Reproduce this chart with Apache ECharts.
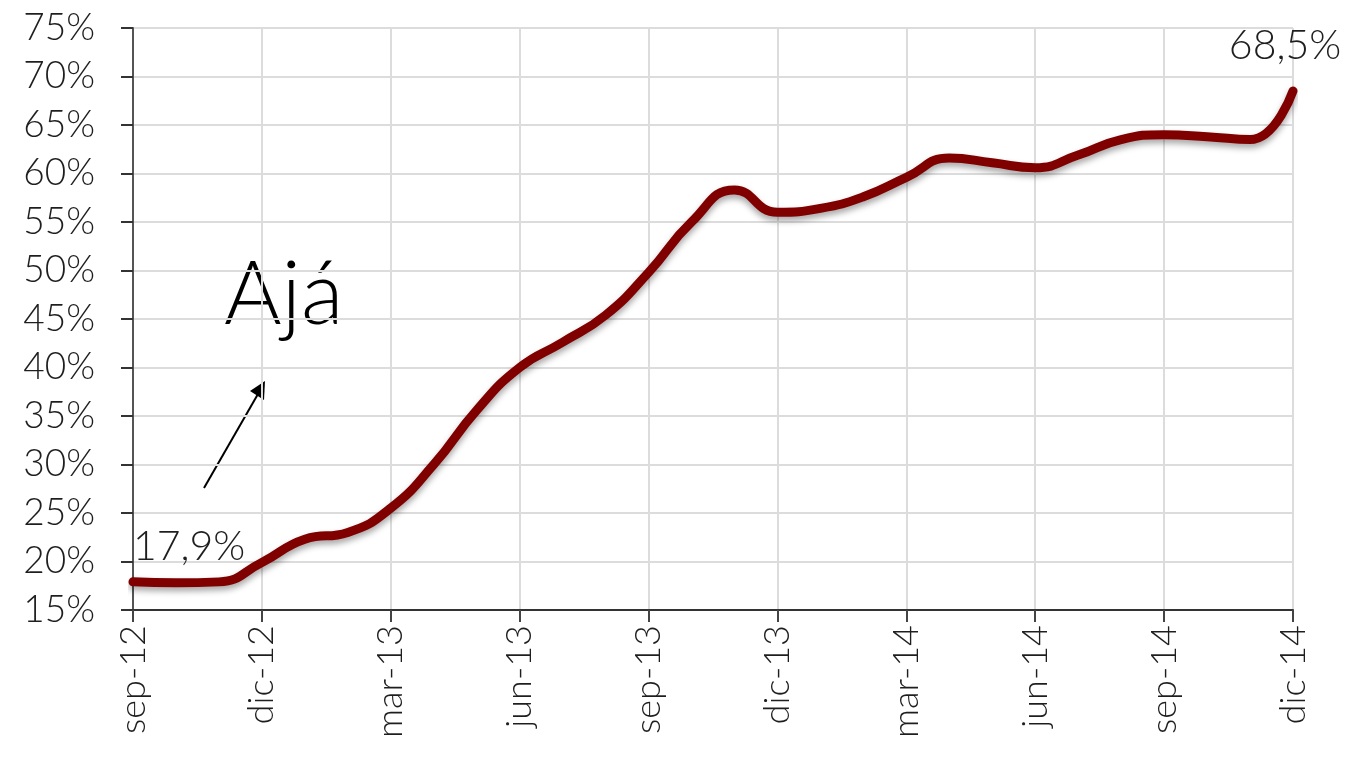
<!DOCTYPE html>
<html>
<head>
<meta charset="utf-8">
<script src="https://cdn.jsdelivr.net/npm/echarts@6/dist/echarts.min.js"></script>
<style>
  html, body { margin: 0; padding: 0; background: #fff; }
  #chart { width: 1350px; height: 769px; }
</style>
</head>
<body>
<div id="chart"></div>
<script>
const months = [
  'sep-12', 'oct-12', 'nov-12', 'dic-12', 'ene-13', 'feb-13', 'mar-13', 'abr-13', 'may-13', 'jun-13',
  'jul-13', 'ago-13', 'sep-13', 'oct-13', 'nov-13', 'dic-13', 'ene-14', 'feb-14', 'mar-14', 'abr-14',
  'may-14', 'jun-14', 'jul-14', 'ago-14', 'sep-14', 'oct-14', 'nov-14', 'dic-14'
]
const share = [
  17.9, 17.8, 17.9, 19.9, 22.3, 23.0, 25.5, 30.0, 35.6, 40.0,
  42.6, 45.4, 49.8, 55.0, 58.3, 56.0, 56.4, 57.6, 59.6, 61.6,
  61.1, 60.6, 61.9, 63.5, 64.0, 63.8, 63.5, 68.5
]
const annotation = 'Ajá'

const font = 'Lato'
const textColor = '#1e1e1e'
const fmtPct = v => v.toFixed(1).replace('.', ',') + '%'

const last = share.length - 1
const seriesData = share.map((v, i) => {
  if (i === 0) {
    return { value: v, label: { show: true, position: 'top', align: 'left', distance: 14, offset: [0, 0] } }
  }
  if (i === last) {
    return { value: v, label: { show: true, position: 'top', align: 'center', distance: 24, offset: [-8, 0] } }
  }
  return v
})

const chart = echarts.init(document.getElementById('chart'))
chart.setOption({
  backgroundColor: '#fff',
  animation: false,
  grid: { left: 133, right: 57, top: 28, bottom: 159 },
  xAxis: {
    type: 'category',
    data: months,
    boundaryGap: false,
    axisLine: { lineStyle: { color: '#333', width: 2 } },
    axisTick: { interval: 2, length: 12, lineStyle: { color: '#444', width: 2 } },
    axisLabel: {
      interval: 2, rotate: 90, margin: 15,
      fontFamily: font, fontWeight: 300, fontSize: 36, color: textColor
    },
    splitLine: { show: true, interval: 2, lineStyle: { color: '#dcdcdc', width: 2 } }
  },
  yAxis: {
    type: 'value',
    min: 15, max: 75, interval: 5,
    axisLine: { show: true, lineStyle: { color: '#555', width: 2 } },
    axisTick: { show: true, length: 12, lineStyle: { color: '#333', width: 2 } },
    axisLabel: {
      formatter: '{value}%', margin: 38,
      fontFamily: font, fontWeight: 300, fontSize: 37, color: textColor
    },
    splitLine: { lineStyle: { color: '#dcdcdc', width: 2 } }
  },
  series: [{
    type: 'line',
    data: seriesData,
    smooth: 0.5,
    symbol: 'circle',
    symbolSize: 1,
    showSymbol: true,
    itemStyle: { color: 'transparent' },
    lineStyle: {
      color: '#800000', width: 9, cap: 'round',
      shadowColor: 'rgba(0,0,0,0.35)', shadowBlur: 6, shadowOffsetY: 4
    },
    label: {
      show: false,
      formatter: p => fmtPct(p.value),
      fontFamily: font, fontWeight: 300, fontSize: 41, color: textColor
    }
  }],
  graphic: [
    {
      type: 'text', left: 224, top: 252,
      style: { text: annotation, fontFamily: font, fontWeight: 300, fontSize: 88, fill: '#000' }
    },
    {
      type: 'line',
      shape: { x1: 204, y1: 488, x2: 258, y2: 394 },
      style: { stroke: '#000', lineWidth: 2 }
    },
    {
      type: 'polygon',
      shape: { points: [[265, 381], [264, 400], [250, 391]] },
      style: { fill: '#000' }
    }
  ]
})
</script>
</body>
</html>
